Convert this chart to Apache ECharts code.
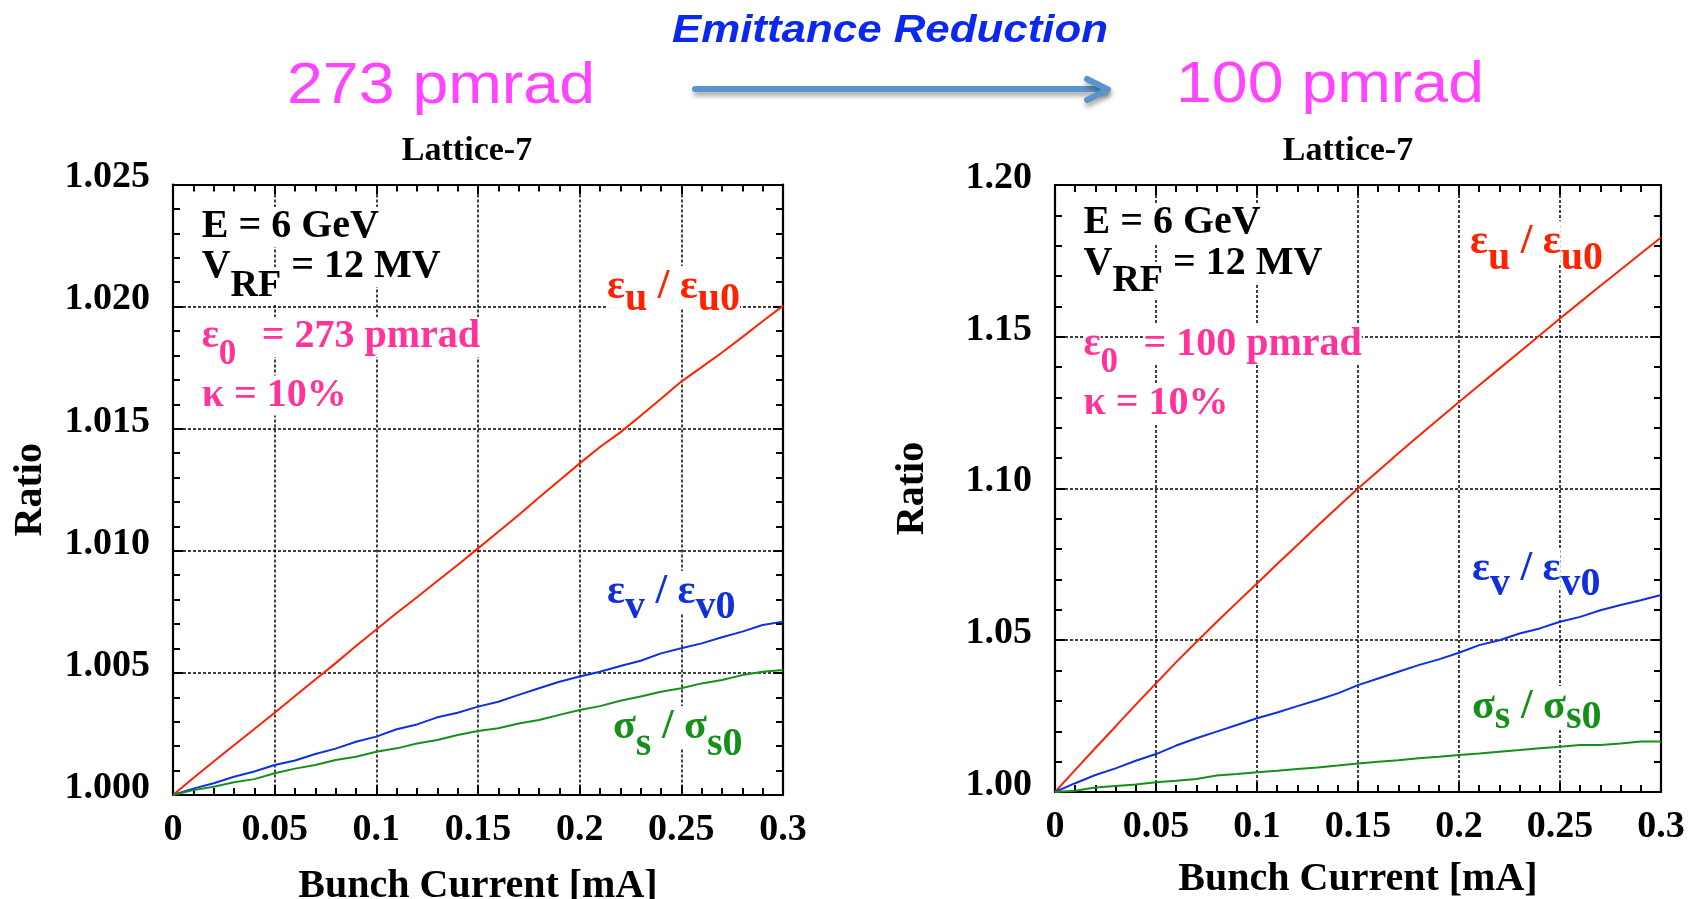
<!DOCTYPE html>
<html>
<head>
<meta charset="utf-8">
<title>Emittance Reduction – Lattice-7</title>
<script src="https://cdn.jsdelivr.net/npm/echarts@6/dist/echarts.min.js"></script>
<style>
  html, body { margin: 0; padding: 0; background: #fff; }
  #chart { width: 1692px; height: 899px; }
</style>
</head>
<body>
<div id="chart"></div>
<script>
// Bunch current [mA]
const current = [0.00, 0.01, 0.02, 0.03, 0.04, 0.05, 0.06, 0.07, 0.08, 0.09, 0.10,
                 0.11, 0.12, 0.13, 0.14, 0.15, 0.16, 0.17, 0.18, 0.19, 0.20,
                 0.21, 0.22, 0.23, 0.24, 0.25, 0.26, 0.27, 0.28, 0.29, 0.30];

// ε0 = 273 pmrad
const epsU273 = [1.0000, 1.0007, 1.00137, 1.00204, 1.0027, 1.00337, 1.00405, 1.00473, 1.0054, 1.0061, 1.00678,
                 1.00745, 1.0081, 1.00876, 1.00942, 1.0101, 1.01078, 1.01147, 1.01218, 1.01288, 1.01358,
                 1.01425, 1.01485, 1.01553, 1.01623, 1.01693, 1.01752, 1.01812, 1.01875, 1.0194, 1.02003];
const epsV273 = [1.0000, 1.00026, 1.00048, 1.00075, 1.00096, 1.00123, 1.00141, 1.00168, 1.0019, 1.00218, 1.00239,
                 1.00269, 1.00289, 1.00318, 1.00337, 1.00362, 1.00382, 1.0041, 1.00437, 1.00464, 1.00485,
                 1.00505, 1.00528, 1.0055, 1.0058, 1.00601, 1.00621, 1.00646, 1.00669, 1.00696, 1.0071];
const sigS273 = [1.0000, 1.0002, 1.00034, 1.00052, 1.00065, 1.00089, 1.00108, 1.00123, 1.00143, 1.00157, 1.00177,
                 1.00191, 1.00211, 1.00225, 1.00246, 1.00262, 1.00273, 1.00293, 1.00307, 1.00328, 1.00348,
                 1.00364, 1.00386, 1.00403, 1.00423, 1.00437, 1.00457, 1.00471, 1.00491, 1.00505, 1.00512];

// ε0 = 100 pmrad
const epsU100 = [1.0000, 1.0073, 1.0145, 1.0216, 1.0288, 1.0358, 1.0428, 1.0494, 1.0560, 1.0624, 1.0687,
                 1.0751, 1.0814, 1.0877, 1.0939, 1.1000, 1.1058, 1.1116, 1.1173, 1.1229, 1.1285,
                 1.1340, 1.1395, 1.1450, 1.1505, 1.1560, 1.1614, 1.1668, 1.1721, 1.1774, 1.1827];
const epsV100 = [1.0000, 1.0029, 1.0056, 1.0078, 1.0103, 1.0125, 1.0153, 1.0177, 1.0199, 1.0221, 1.0243,
                 1.0262, 1.0283, 1.0303, 1.0325, 1.0352, 1.0374, 1.0396, 1.0418, 1.0437, 1.0459,
                 1.0484, 1.0500, 1.0522, 1.0539, 1.0561, 1.0577, 1.0599, 1.0616, 1.0632, 1.0649];
const sigS100 = [1.0000, 1.0004, 1.0015, 1.0020, 1.0025, 1.0032, 1.0037, 1.0043, 1.0054, 1.0059, 1.0065,
                 1.0070, 1.0076, 1.0081, 1.0087, 1.0094, 1.0100, 1.0105, 1.0111, 1.0116, 1.0122,
                 1.0127, 1.0133, 1.0138, 1.0144, 1.0149, 1.0155, 1.0155, 1.0160, 1.0166, 1.0166];

const panelTitles = ['Lattice-7', 'Lattice-7'];
const emittanceLabels = ['273 pmrad', '100 pmrad'];

const SERIF = '"Liberation Serif", "Times New Roman", serif';
const SANS = '"Liberation Sans", Arial, sans-serif';
const RED = '#ff2200', BLUE = '#1030e0', GREEN = '#15911a', PINK = '#ff3399', BLACK = '#000';
// distance from the alphabetic baseline up to the point used for middle alignment (em units)
const SERIF_MID = 0.24, SANS_MID = 0.30;

const pairs = ys => current.map((c, i) => [c, ys[i]]);

// --- axes -------------------------------------------------------------
const tickLine = { color: BLACK, width: 2 };
function frameAxis(extra) {
  return Object.assign({
    type: 'value',
    axisLine: { show: true, onZero: false, lineStyle: { color: BLACK, width: 2.2 } },
    axisTick: { show: true, inside: true, length: 10, lineStyle: tickLine },
    minorTick: { show: true, splitNumber: 5, length: 7, lineStyle: tickLine },
    splitLine: { show: false },
    axisLabel: { show: false }
  }, extra);
}
const gridDash = { show: true, lineStyle: { color: BLACK, width: 1.5, type: [3, 2] } };
const tickFont = { show: true, fontFamily: SERIF, fontWeight: 'bold', fontSize: 38, color: BLACK };
const nameFont = { fontFamily: SERIF, fontWeight: 'bold', fontSize: 40, color: BLACK };

function xAxes(gridIndex, nameGap) {
  const range = { gridIndex, min: 0, max: 0.3, interval: 0.05 };
  return [
    frameAxis(Object.assign({}, range, {
      position: 'bottom',
      splitLine: gridDash,
      axisLabel: Object.assign({}, tickFont, { margin: 16, formatter: v => String(+v.toFixed(2)) }),
      name: 'Bunch Current [mA]', nameLocation: 'middle', nameGap, nameTextStyle: nameFont
    })),
    frameAxis(Object.assign({}, range, { position: 'top' }))
  ];
}
function yAxes(gridIndex, min, max, interval, digits) {
  const range = { gridIndex, min, max, interval };
  return [
    frameAxis(Object.assign({}, range, {
      position: 'left',
      splitLine: gridDash,
      axisLabel: Object.assign({}, tickFont, {
        margin: 23, verticalAlign: 'bottom', lineHeight: 14, formatter: v => v.toFixed(digits)
      }),
      name: 'Ratio', nameLocation: 'middle', nameGap: 122, nameTextStyle: nameFont
    })),
    frameAxis(Object.assign({}, range, { position: 'right' }))
  ];
}

function curve(name, ys, color, axisIdx) {
  return {
    name, type: 'line', data: pairs(ys), showSymbol: false, symbol: 'none',
    xAxisIndex: axisIdx, yAxisIndex: axisIdx,
    lineStyle: { color, width: 2 }, silent: true, animation: false, z: 3
  };
}

// --- text with subscripts, laid out piece by piece ---------------------
const measureCtx = document.createElement('canvas').getContext('2d');
function textWidth(str, size) {
  measureCtx.font = 'bold ' + size + 'px ' + SERIF;
  return measureCtx.measureText(str).width;
}
// parts: [{t, sub, at}] – "at" pins a piece to an offset from the line start
function formula(x, baseline, parts, color, mainSize, subSize, subShift) {
  const els = [];
  let cx = x;
  parts.forEach(p => {
    const size = p.sub ? subSize : mainSize;
    const base = baseline + (p.sub ? subShift : 0);
    if (p.at != null) cx = x + p.at;
    els.push({
      type: 'text', x: cx, y: base - SERIF_MID * size, z: 1, silent: true,
      style: {
        text: p.t, fill: color, font: 'bold ' + size + 'px ' + SERIF,
        textAlign: 'left', textVerticalAlign: 'middle', verticalAlign: 'middle',
        backgroundColor: '#fff'
      }
    });
    cx += textWidth(p.t, size);
  });
  return els;
}
const T = (t, at) => ({ t, sub: false, at });
const S = t => ({ t, sub: true });

function panelNotes(x0, rows, emitText) {
  return [].concat(
    formula(x0, rows[0], [T('E = 6 GeV')], BLACK, 40, 38, 0),
    formula(x0, rows[1], [T('V'), S('RF'), T(' = 12 MV')], BLACK, 40, 38, rows[4]),
    formula(x0, rows[2], [T('ε'), S('0'), T('= ' + emitText, 60)], PINK, 40, 35, 17),
    formula(x0, rows[3], [T('κ = 10%')], PINK, 40, 38, 0)
  );
}
function curveTag(x, baseline, sym, sub, color, shift) {
  return formula(x, baseline, [T(sym), S(sub), T(' / '), T(sym), S(sub + '0')], color, 42, 40, shift);
}

function bigText(text, x, baseline, size, color, italic, scaleX) {
  return {
    type: 'text', x, y: baseline - SANS_MID * size, scaleX, scaleY: 1, z: 1, silent: true,
    style: {
      text, fill: color, font: (italic ? 'italic bold ' : '') + size + 'px ' + SANS,
      textAlign: 'center', textVerticalAlign: 'middle', verticalAlign: 'middle'
    }
  };
}
function panelTitle(text, x, baseline) {
  return {
    type: 'text', x, y: baseline - SERIF_MID * 34, z: 1, silent: true,
    style: {
      text, fill: BLACK, font: 'bold 34px ' + SERIF,
      textAlign: 'center', textVerticalAlign: 'middle', verticalAlign: 'middle'
    }
  };
}

const arrowColor = '#5b93cc';
const arrowShadow = { shadowBlur: 5, shadowOffsetX: 1, shadowOffsetY: 4, shadowColor: 'rgba(0,0,0,0.35)' };

const graphics = [].concat(
  [
    bigText('Emittance Reduction', 890, 43.3, 39.5, '#0a28f0', true, 1.11),
    bigText(emittanceLabels[0], 441, 104, 57, '#ff44ff', false, 1.13),
    bigText(emittanceLabels[1], 1330, 103.5, 57, '#ff44ff', false, 1.13),
    {
      type: 'line', z: 1, silent: true,
      shape: { x1: 695, y1: 89, x2: 1105, y2: 89 },
      style: Object.assign({ stroke: arrowColor, lineWidth: 6, lineCap: 'round' }, arrowShadow)
    },
    {
      type: 'polyline', z: 1, silent: true,
      shape: { points: [[1087, 79], [1108, 89.5], [1087, 100]] },
      style: Object.assign({ stroke: arrowColor, fill: null, lineWidth: 6, lineCap: 'round', lineJoin: 'round' }, arrowShadow)
    },
    panelTitle(panelTitles[0], 467, 159.3),
    panelTitle(panelTitles[1], 1348, 159.3)
  ],
  panelNotes(201.7, [236.7, 276.7, 346.7, 405, 18.3], '273 pmrad'),
  panelNotes(1083.5, [232.7, 273, 354, 413, 17], '100 pmrad'),
  curveTag(607, 297, 'ε', 'u', RED, 12),
  curveTag(607, 602, 'ε', 'v', BLUE, 15),
  curveTag(613, 737, 'σ', 's', GREEN, 17),
  curveTag(1470, 252, 'ε', 'u', RED, 16),
  curveTag(1472, 579, 'ε', 'v', BLUE, 15),
  curveTag(1472, 717, 'σ', 's', GREEN, 10)
);

const option = {
  backgroundColor: '#fff',
  animation: false,
  grid: [
    { left: 173, top: 184.5, width: 610, height: 610.5, containLabel: false, outerBoundsMode: 'none' },
    { left: 1055, top: 185, width: 606, height: 607, containLabel: false, outerBoundsMode: 'none' }
  ],
  xAxis: [].concat(xAxes(0, 72), xAxes(1, 68)),
  yAxis: [].concat(yAxes(0, 1.000, 1.025, 0.005, 3), yAxes(1, 1.00, 1.20, 0.05, 2)),
  series: [
    curve('εu/εu0 (273 pmrad)', epsU273, RED, 0),
    curve('εv/εv0 (273 pmrad)', epsV273, BLUE, 0),
    curve('σs/σs0 (273 pmrad)', sigS273, GREEN, 0),
    curve('εu/εu0 (100 pmrad)', epsU100, RED, 2),
    curve('εv/εv0 (100 pmrad)', epsV100, BLUE, 2),
    curve('σs/σs0 (100 pmrad)', sigS100, GREEN, 2)
  ],
  graphic: graphics
};

const chart = echarts.init(document.getElementById('chart'), null, { renderer: 'canvas' });
chart.setOption(option);
</script>
</body>
</html>
